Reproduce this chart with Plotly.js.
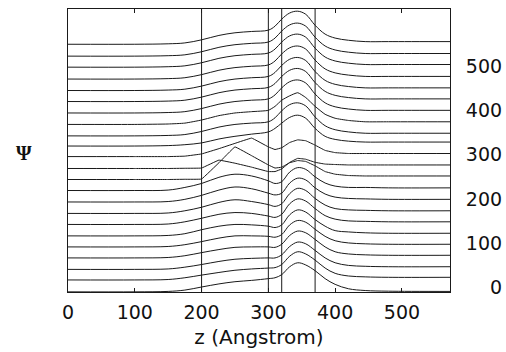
<!DOCTYPE html>
<html>
<head>
<meta charset="utf-8">
<script src="https://cdn.plot.ly/plotly-3.0.1.min.js"></script>
<style>html,body{margin:0;padding:0;background:#fff;}#chart{width:506px;height:352px;}</style>
</head>
<body>
<div id="chart"></div>
<script>
// z positions (Angstrom) at which each curve is read
const z = [0, 100, 150, 175, 200, 226, 250, 275, 300, 310, 320, 332, 344, 356, 370, 385, 400, 420, 445, 480, 572];
// region boundaries (vertical lines)
const boundaries = [200, 300, 320, 370];
// x tick labels
const xTicks = [0, 100, 200, 300, 400, 500];
// y tick labels
const yTicks = [0, 100, 200, 300, 400, 500];

// Psi curves, bottom to top
const psi00 = [-11,-11,-10,-7,0,7,12,15,19,21,28,46,55,50,37,19,6,-4,-8,-9.5,-10];
const psi01 = [16,16,17,21,27,33,38,41,43,44,51,70,80,75,61,43,31,25,23,22,22];
const psi02 = [40,40,41,45,51,58,63,65,66,66,73,92,102,98,83,66,55,49,47,46,46];
const psi03 = [66,66,67,71,78,85,90,91,91,90,97,117,127,123,108,91,80,75,73,72,72];
const psi04 = [91,91,92,96,103,111,116,116,115,113,119,141,151,147,131,115,105,100,98,97,97];
const psi05 = [116,116,117,121,130,138,142,141,138,135,141,164,175,170,153,138,128,125,123,122,122];
const psi06 = [142,142,143,148,156,165,169,167,161,158,165,189,200,195,178,162,154,150,149,148,148];
const psi07 = [167,167,168,173,181,192,198,194,187,183,189,212,224,219,201,186,178,175,174,173,173];
const psi08 = [193,193,194,199,208,220,227,223,213,209,213,236,247,243,225,211,204,201,200,199,199];
const psi09 = [219,219,220,226,235,249,256,252,241,235,239,261,271,267,250,236,229,226,226,225,225];
const psi10 = [244,244,244,244.5,245,282,318,298,277,270,272,282,287,285,275,262,256,253,252,252,252];
const psi11 = [269,269,269,269.5,270,288,281,272,262,262,268,283,292,290,283,279,278,277,277,277,277];
const psi12 = [296,296,296,297,302,314,326,338,318,312,316,328,334,332,322,310,305,303,303,303,303];
const psi13 = [320,320,321,323,327,336,342,347,352,360,372,385,390,383,360,342,335,331,329,329,329];
const psi14 = [343,343,344,346,353,363,369,372,375,384,400,414,418,411,386,366,357,352,349,349,349];
const psi15 = [369,369,370,372,379,389,395,398,401,410,424,434,441,430,410,392,383,378,375,375,375];
const psi16 = [395,395,396,398,405,415,421,424,427,436,452,466,470,463,438,418,409,404,401,401,401];
const psi17 = [421,421,422,424,431,441,447,450,453,462,478,492,496,489,464,444,435,430,427,427,427];
const psi18 = [446,446,447,449,456,466,472,475,478,487,503,517,521,514,489,469,460,455,452,452,452];
const psi19 = [472,472,473,475,482,492,498,501,504,513,529,543,547,540,515,495,486,481,478,478,478];
const psi20 = [499,499,500,502,509,519,525,528,531,540,556,570,574,567,542,522,513,508,505,505,505];
const psi21 = [524,524,525,527,534,544,550,553,556,565,581,595,599,592,567,547,538,533,530,530,530];
const psi22 = [551,551,552,554,561,571,577,580,583,592,608,622,626,619,594,574,565,560,557,557,557];

const curves = [psi00,psi01,psi02,psi03,psi04,psi05,psi06,psi07,psi08,psi09,psi10,psi11,
  psi12,psi13,psi14,psi15,psi16,psi17,psi18,psi19,psi20,psi21,psi22];
// curves with kinks get a tighter spline
const kinked = {10: 0.15, 11: 0.15, 12: 0.15, 15: 0.45};

const traces = curves.map((ys, i) => ({
  type: 'scatter', mode: 'lines', x: z, y: ys,
  line: {color: '#1a1a1a', width: 1, shape: 'spline', smoothing: (i in kinked) ? kinked[i] : 1},
  hoverinfo: 'skip', showlegend: false
}));

const yRange = [-11.35, 631];
const shapes = boundaries.map(b => ({
  type: 'line', xref: 'x', yref: 'paper', x0: b, x1: b, y0: 0, y1: 1,
  line: {color: '#1a1a1a', width: 1}
}));

const fontFam = 'DejaVu Sans, Verdana, sans-serif';
const FS = '\u2007';
const pad = s => FS.repeat(3 - s.length) + s;
const layout = {
  width: 506, height: 352,
  margin: {l: 67.5, r: 55.5, t: 9, b: 60, pad: 0},
  paper_bgcolor: '#fff', plot_bgcolor: '#fff',
  showlegend: false,
  font: {family: fontFam, size: 19, color: '#111'},
  xaxis: {
    range: [0, 572], tickvals: xTicks, ticktext: xTicks.map(String),
    ticks: 'inside', ticklen: 4, tickcolor: '#1a1a1a', showline: true, mirror: 'ticks',
    linecolor: '#1a1a1a', linewidth: 1, showgrid: false, zeroline: false,
    ticklabelstandoff: 3,
    tickfont: {family: fontFam, size: 19, color: '#111'},
    title: {text: 'z (Angstrom)', font: {family: fontFam, size: 20, color: '#111'}, standoff: 8}
  },
  yaxis: {
    range: yRange, side: 'right', tickvals: yTicks, ticktext: yTicks.map(v => pad(String(v))),
    ticks: '', showline: true, mirror: true, ticklabelstandoff: 11,
    linecolor: '#1a1a1a', linewidth: 1, showgrid: false, zeroline: false,
    tickfont: {family: fontFam, size: 19, color: '#111'}
  },
  shapes: shapes,
  annotations: [{
    text: '<b>Ψ</b>', xref: 'paper', yref: 'paper', showarrow: false,
    x: (23.5 - 67.5) / 383, y: (292 - 153) / 283, xanchor: 'center', yanchor: 'middle',
    font: {family: 'Liberation Serif, DejaVu Serif, serif', size: 20, color: '#111'}
  }]
};

Plotly.newPlot('chart', traces, layout, {staticPlot: true, displayModeBar: false});
</script>
</body>
</html>
